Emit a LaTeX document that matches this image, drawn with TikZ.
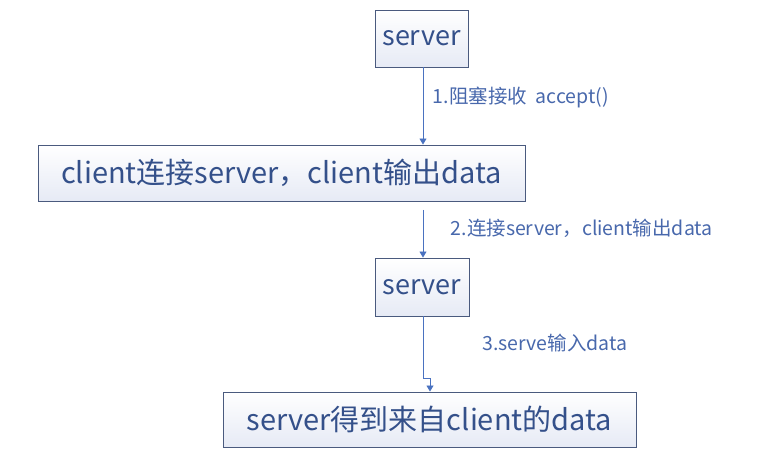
\documentclass[tikz,border=0pt]{standalone}
\usepackage{fontspec}
\setmainfont{Noto Sans CJK SC}
\usetikzlibrary{positioning,arrows.meta}

\definecolor{boxline}{HTML}{4A5A7E}
\definecolor{boxtext}{HTML}{34508A}
\definecolor{boxfill}{HTML}{E6EAF5}
\definecolor{flow}{HTML}{4A72C0}
\definecolor{labeltext}{HTML}{4868AC}

\tikzset{
	box/.style={draw=boxline, line width=0.9pt, top color=white, bottom color=boxfill,
		text=boxtext, font=\fontsize{29}{32}\selectfont, inner sep=0pt},
	flowline/.style={draw=flow, line width=0.9pt, -{Triangle[width=7pt,length=6pt]}},
	flowlabel/.style={text=labeltext, font=\fontsize{19.5}{22}\selectfont, anchor=west},
}

\begin{document}
\begin{tikzpicture}[x=1pt,y=-1pt]
	\useasboundingbox (0,0) rectangle (772,454);
	\node [box, minimum width=93pt, minimum height=57pt, font=\fontsize{27}{30}\selectfont] (S1) at (421.5,38.5) {server};
	\node [box, minimum width=487pt, minimum height=56pt] (C2) at (281.5,173) {client连接server，client输出data};
	\node [box, minimum width=94pt, minimum height=58pt, font=\fontsize{27}{30}\selectfont] (S3) at (422,287) {server};
	\node [box, minimum width=413pt, minimum height=55pt] (D4) at (429.5,419.5) {server得到来自client的data};
	\coordinate (C2out) at (423,210);
	\coordinate (S3bend) at (423,378);
	\coordinate (D4bend) at (430,378);
	\draw [flowline] (S1.south -| C2out) to node [flowlabel, right=6pt, yshift=9pt] {1.阻塞接收\ \ accept()} (C2.north -| C2out);
	\draw [flowline] (C2out) to node [flowlabel, right=24pt, yshift=5pt] {2.连接server，client输出data} (S3.north -| C2out);
	\draw [flowline] (S3.south -| S3bend) -- (S3bend) -- (D4bend) -- (D4.north -| D4bend);
	\node [flowlabel] (L3) at (479,343) {3.serve输入data};
\end{tikzpicture}
\end{document}
